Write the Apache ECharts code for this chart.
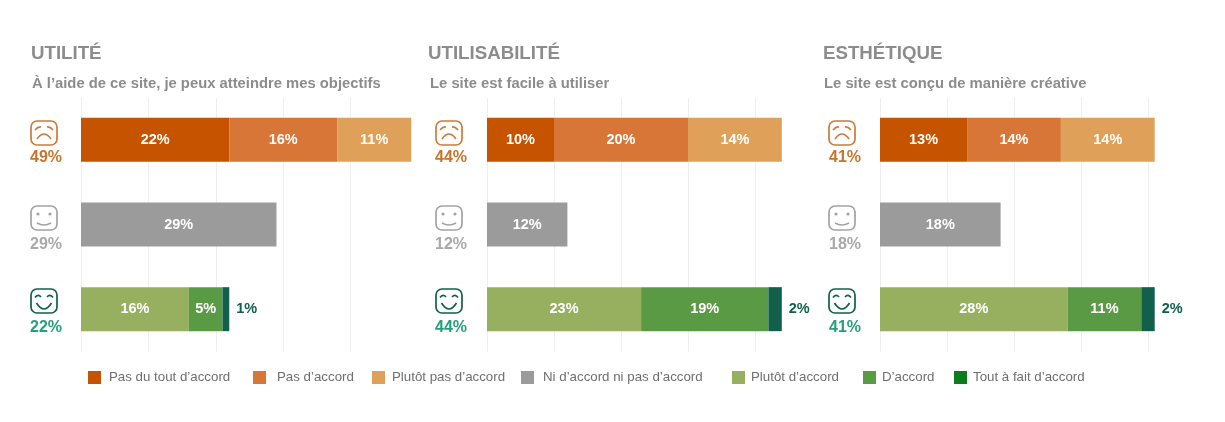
<!DOCTYPE html>
<html lang="fr">
<head>
<meta charset="utf-8">
<title>Utilité, utilisabilité, esthétique</title>
<script src="https://cdn.jsdelivr.net/npm/echarts@6/dist/echarts.min.js"></script>
<style>
  html, body { margin: 0; padding: 0; background: #fff; }
  #chart { width: 1225px; height: 422px; }
</style>
</head>
<body>
<div id="chart"></div>
<script>
const seriesNames = ["Pas du tout d’accord", "Pas d’accord", "Plutôt pas d’accord", "Ni d’accord ni pas d’accord", "Plutôt d’accord", "D’accord", "Tout à fait d’accord"];
const seriesColors = ["#c65300", "#d87637", "#dfa159", "#9b9b9b", "#96b05f", "#5b9a45", "#125f4b"];
const legendColors = ["#c65300", "#d87637", "#dfa159", "#9b9b9b", "#96b05f", "#5b9a45", "#0b7d1c"];
const categories = ["Négatif", "Neutre", "Positif"];
// ligne du graphique pour chaque série
const seriesRow = [0, 0, 0, 1, 2, 2, 2];

const panelTitles = ["UTILITÉ", "UTILISABILITÉ", "ESTHÉTIQUE"];
const panelQuestions = ["À l’aide de ce site, je peux atteindre mes objectifs", "Le site est facile à utiliser", "Le site est conçu de manière créative"];

const utiliteValues = [22, 16, 11, 29, 16, 5, 1];
const utilisabiliteValues = [10, 20, 14, 12, 23, 19, 2];
const esthetiqueValues = [13, 14, 14, 18, 28, 11, 2];
const utiliteTotals = [49, 29, 22];
const utilisabiliteTotals = [44, 12, 44];
const esthetiqueTotals = [41, 18, 41];

const font = "'Liberation Sans', Arial, sans-serif";
const panelValues = [utiliteValues, utilisabiliteValues, esthetiqueValues];
const panelTotals = [utiliteTotals, utilisabiliteTotals, esthetiqueTotals];
const gridLeft = [81, 487, 880];
const gridWidth = [337, 335, 335];
const titleLeft = [31, 428, 823];
const questionLeft = [32, 430, 824];
const faceCenter = [44, 449, 842];
const totalCenter = [46, 451, 845];
const faceY = [133, 218, 301];
const totalY = [158, 245, 328];
const faceColors = ["#cd7a3a", "#a3a3a3", "#125f4b"];
const totalColors = ["#c9742b", "#a8a8a8", "#25a07d"];

const legendLeft = [88, 253, 372, 521, 732, 863, 954];
const legendTextGap = [3, 6, 2, 4, 1, 1, 1];

function curve(x1, y1, cx, cy, x2, y2, color) {
  return {
    type: "bezierCurve",
    shape: { x1: x1, y1: y1, x2: x2, y2: y2, cpx1: cx, cpy1: cy },
    style: { stroke: color, lineWidth: 1.7, fill: null },
    silent: true
  };
}

function face(x, y, mood) {
  const color = faceColors[mood];
  const children = [{
    type: "rect",
    shape: { x: -13, y: -12, width: 26, height: 24, r: 6 },
    style: { stroke: color, lineWidth: 1.7, fill: "#fff" },
    silent: true
  }];
  if (mood === 0) {
    children.push(curve(-9, -3, -6, -6.5, -3, -6, color));
    children.push(curve(9, -3, 6, -6.5, 3, -6, color));
    children.push(curve(-7, 6, 0, -4, 7, 6, color));
  } else if (mood === 1) {
    children.push({ type: "circle", shape: { cx: -6, cy: -4, r: 1.6 }, style: { fill: color }, silent: true });
    children.push({ type: "circle", shape: { cx: 6, cy: -4, r: 1.6 }, style: { fill: color }, silent: true });
    children.push(curve(-7, 5, 0, 9, 7, 5, color));
  } else {
    children.push(curve(-9, -3.5, -6, -7.5, -3, -4, color));
    children.push(curve(9, -3.5, 6, -7.5, 3, -4, color));
    children.push(curve(-7.5, 2, 0, 14, 7.5, 2, color));
  }
  return { type: "group", x: x, y: y, children: children };
}

const grid = [], xAxis = [], yAxis = [], series = [], graphic = [];

panelTitles.forEach((title, p) => {
  grid.push({ left: gridLeft[p], top: 97.5, width: gridWidth[p], height: 254 });
  xAxis.push({
    type: "value", gridIndex: p, min: 0, max: 50, interval: 10,
    axisLabel: { show: false }, axisLine: { show: false }, axisTick: { show: false },
    splitLine: { show: true, showMaxLine: false, lineStyle: { color: "#eeeeee", width: 1 } }
  });
  yAxis.push({
    type: "category", gridIndex: p, data: categories, inverse: true,
    axisLabel: { show: false }, axisLine: { show: false }, axisTick: { show: false }
  });

  seriesNames.forEach((name, s) => {
    const isLast = s === seriesNames.length - 1;
    series.push({
      name: name,
      type: "bar",
      xAxisIndex: p,
      yAxisIndex: p,
      stack: "p" + p,
      barWidth: 44,
      silent: true,
      animation: false,
      itemStyle: { color: seriesColors[s] },
      label: {
        show: true,
        position: isLast ? "right" : "inside",
        distance: 7,
        formatter: "{c}%",
        color: isLast ? "#125f4b" : "#fff",
        fontFamily: font,
        fontSize: 14.5,
        fontWeight: "bold"
      },
      data: categories.map((c, row) => (row === seriesRow[s] ? panelValues[p][s] : null))
    });
  });

  graphic.push({ type: "text", left: titleLeft[p], top: 44, silent: true,
    style: { text: title, font: "bold 18.7px " + font, fill: "#8c8c8c" } });
  graphic.push({ type: "text", left: questionLeft[p], top: 76, silent: true,
    style: { text: panelQuestions[p], font: "bold 14.8px " + font, fill: "#8c8c8c" } });

  categories.forEach((c, row) => {
    graphic.push(face(faceCenter[p], faceY[row], row));
    graphic.push({ type: "text", x: totalCenter[p], y: totalY[row], silent: true,
      style: { text: panelTotals[p][row] + "%", font: "bold 16px " + font, fill: totalColors[row], align: "center", verticalAlign: "middle" } });
  });
});

const legend = seriesNames.map((name, i) => ({
  data: [{ name: name, itemStyle: { color: legendColors[i] } }],
  left: legendLeft[i],
  top: 371,
  padding: 0,
  itemWidth: 13,
  itemHeight: 13,
  icon: "rect",
  selectedMode: false,
  textStyle: { color: "#6e6e6e", fontFamily: font, fontSize: 13.3, padding: [0, 0, 0, legendTextGap[i]] }
}));

const myChart = echarts.init(document.getElementById("chart"), null, { renderer: "canvas" });
myChart.setOption({
  backgroundColor: "#fff",
  animation: false,
  grid: grid,
  xAxis: xAxis,
  yAxis: yAxis,
  legend: legend,
  series: series,
  graphic: graphic
});
</script>
</body>
</html>
